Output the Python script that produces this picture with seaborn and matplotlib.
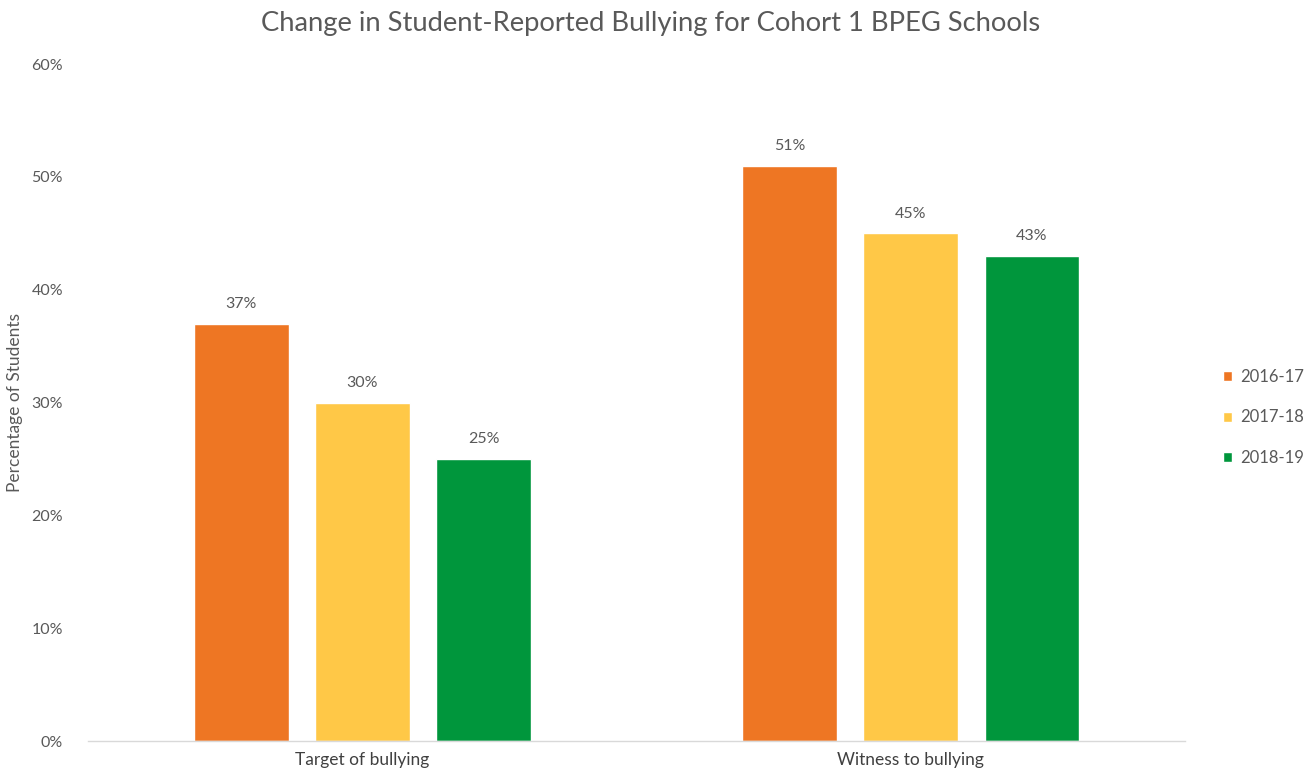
import matplotlib
matplotlib.use("Agg")
import matplotlib.pyplot as plt
import pandas as pd
import seaborn as sns

# chart data
categories = ["Target of bullying", "Witness to bullying"]
years = ["2016-17", "2017-18", "2018-19"]
values_2016 = [0.37, 0.51]
values_2017 = [0.30, 0.45]
values_2018 = [0.25, 0.43]
y_ticks = [0.0, 0.1, 0.2, 0.3, 0.4, 0.5, 0.6]

colors = ["#EE7623", "#FFC847", "#00963C"]
grey = "#595959"

df = pd.DataFrame({
    "category": categories * 3,
    "year": [years[0]] * 2 + [years[1]] * 2 + [years[2]] * 2,
    "value": values_2016 + values_2017 + values_2018,
})

sns.set_theme(style="white")
plt.rcParams["font.family"] = ["Lato", "DejaVu Sans"]

fig = plt.figure(figsize=(13.1, 7.76), dpi=100)
ax = fig.add_axes([0.0672, 0.0451, 0.8374, 0.8724])

sns.barplot(data=df, x="category", y="value", hue="year", order=categories,
            hue_order=years, palette=colors, width=0.663, gap=0.217,
            saturation=1, ax=ax, legend=True)

for cont in ax.containers:
    ax.bar_label(cont, labels=[f"{v * 100:.0f}%" for v in cont.datavalues],
                 padding=9, fontsize=11.5, color=grey)

ax.set_xlim(-0.5, 1.5)
ax.set_ylim(0, 0.6)
ax.set_yticks(y_ticks)
ax.set_yticklabels([f"{t * 100:.0f}%" for t in y_ticks])
ax.tick_params(axis="y", length=0, pad=18, labelsize=11.5, labelcolor=grey)
ax.tick_params(axis="x", length=0, pad=8, labelsize=12.5, labelcolor="#404040")
ax.set_xlabel("")
ax.set_ylabel("Percentage of Students", fontsize=12.5, color=grey, labelpad=6)

for side in ["top", "right", "left"]:
    ax.spines[side].set_visible(False)
ax.spines["bottom"].set_color("#D9D9D9")
ax.spines["bottom"].set_linewidth(1)

handles, labels = ax.get_legend_handles_labels()
ax.get_legend().remove()
fig.legend(handles, labels, loc="center left", bbox_to_anchor=(0.922, 0.462),
           frameon=False, fontsize=12, labelcolor=grey, handlelength=0.55,
           handleheight=0.55, handletextpad=0.5, labelspacing=1.45)

fig.text(0.497, 0.97, "Change in Student-Reported Bullying for Cohort 1 BPEG Schools",
         ha="center", va="center", fontsize=19.7, color=grey)

fig.savefig("out.png", dpi=100)
